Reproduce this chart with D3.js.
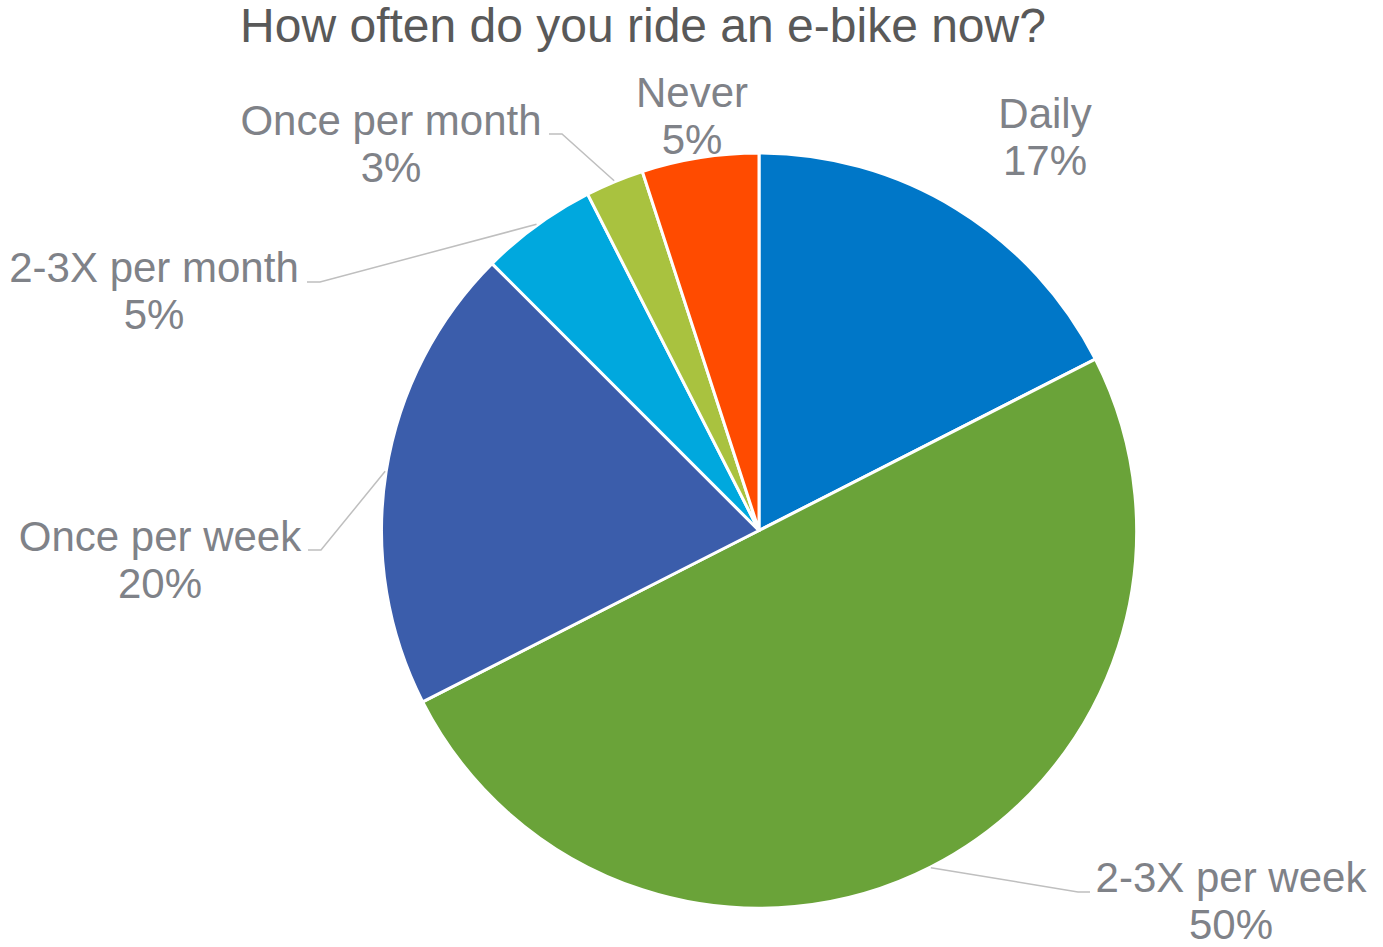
<!DOCTYPE html>
<html>
<head>
<meta charset="utf-8">
<script src="https://cdn.jsdelivr.net/npm/d3@7"></script>
<style>
  html, body { margin: 0; padding: 0; background: #ffffff; }
  svg { display: block; }
</style>
</head>
<body>
<svg id="chart" width="1383" height="947"></svg>
<script>
// ---- data ----
const categories = ["Daily", "2-3X per week", "Once per week", "2-3X per month", "Once per month", "Never"];
const shares = [17.5, 50, 20, 5, 2.5, 5];
const percentLabels = ["17%", "50%", "20%", "5%", "3%", "5%"];
const colors = ["#0077C8", "#6AA339", "#3B5DAB", "#00A8DE", "#A9C23F", "#FF4B00"];
const titleText = "How often do you ride an e-bike now?";

// ---- layout (label placement) ----
const labelLayout = [
  { x: 1045, y: 128, leader: null },
  { x: 1231, y: 892, leader: { elbow: [1078, 892], end: [1090, 892] } },
  { x: 160,  y: 551, leader: { elbow: [321, 550],  end: [308, 550] } },
  { x: 154,  y: 282, leader: { elbow: [320, 282],  end: [307, 282] } },
  { x: 391,  y: 135, leader: { elbow: [562, 134],  end: [549, 134] } },
  { x: 692,  y: 107, leader: null }
];

const svg = d3.select("#chart");
const cx = 759, cy = 530.5, r = 377.5;

svg.append("text")
  .attr("x", 643).attr("y", 42)
  .attr("text-anchor", "middle")
  .attr("font-family", "Liberation Sans, Arial, sans-serif")
  .attr("font-size", 48)
  .attr("fill", "#595959")
  .text(titleText);

const pie = d3.pie().sort(null).value(d => d.v)(shares.map((v, i) => ({ v, i })));
const arc = d3.arc().innerRadius(0).outerRadius(r);

const g = svg.append("g").attr("transform", `translate(${cx},${cy})`);
g.selectAll("path.slice").data(pie).join("path")
  .attr("class", "slice")
  .attr("d", arc)
  .attr("fill", d => colors[d.data.i])
  .attr("stroke", "#ffffff")
  .attr("stroke-width", 3)
  .attr("stroke-linejoin", "round");

// leader lines
pie.forEach(d => {
  const L = labelLayout[d.data.i].leader;
  if (!L) return;
  const mid = (d.startAngle + d.endAngle) / 2;
  const px = cx + Math.sin(mid) * (r + 1);
  const py = cy - Math.cos(mid) * (r + 1);
  svg.append("polyline")
    .attr("points", [[px, py], L.elbow, L.end].map(p => p.join(",")).join(" "))
    .attr("fill", "none")
    .attr("stroke", "#BFBFBF")
    .attr("stroke-width", 1.5);
});

// labels
categories.forEach((c, i) => {
  const L = labelLayout[i];
  const t = svg.append("text")
    .attr("text-anchor", "middle")
    .attr("font-family", "Liberation Sans, Arial, sans-serif")
    .attr("font-size", 42)
    .attr("fill", "#7F8288");
  t.append("tspan").attr("x", L.x).attr("y", L.y).text(c);
  t.append("tspan").attr("x", L.x).attr("y", L.y + 47).text(percentLabels[i]);
});
</script>
</body>
</html>
